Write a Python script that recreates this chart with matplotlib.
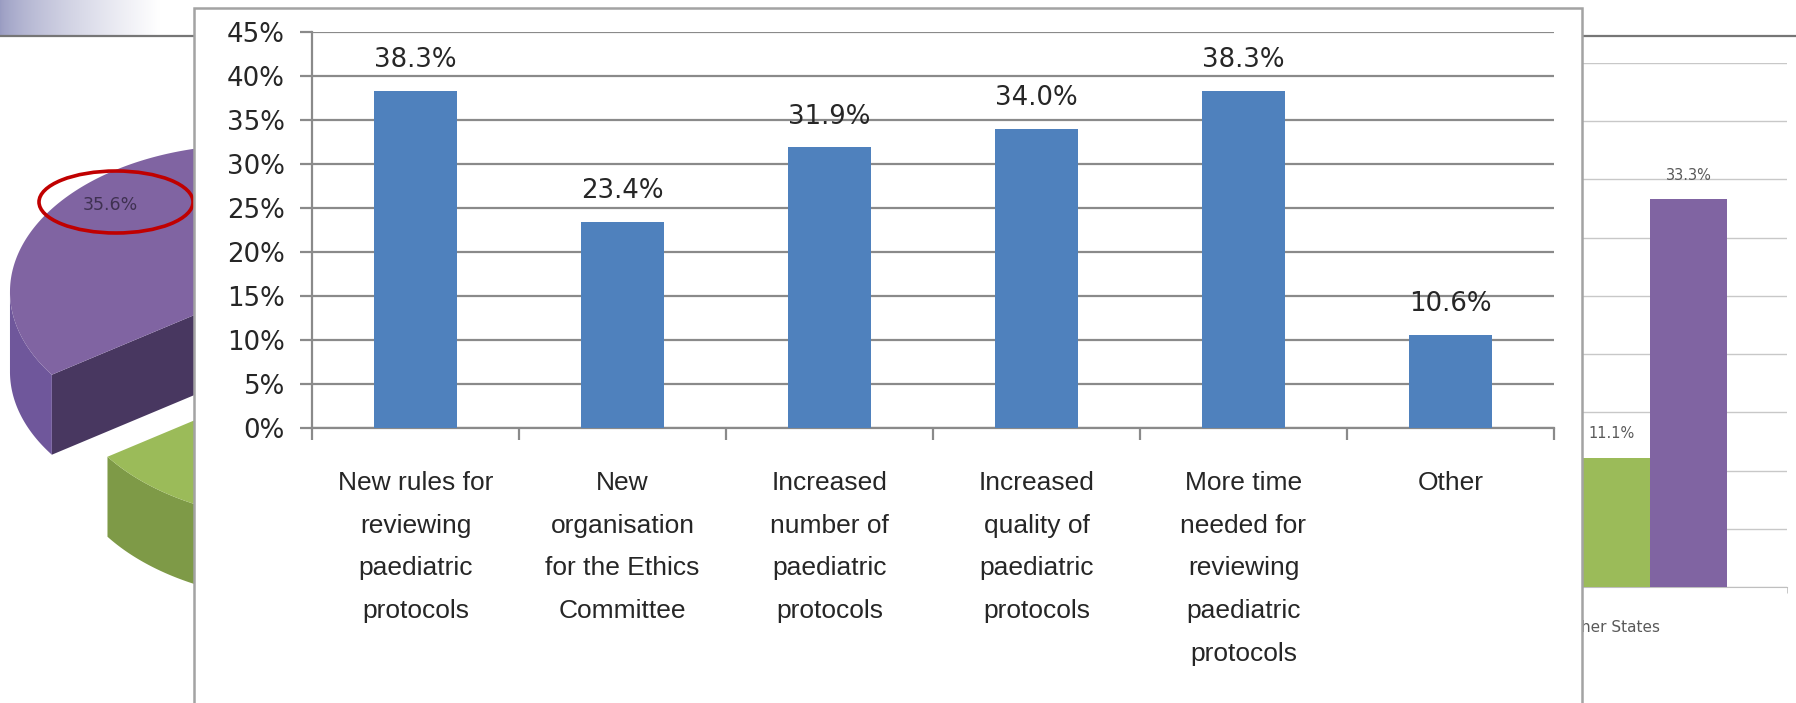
import numpy as np
import matplotlib
matplotlib.use("Agg")
import matplotlib.pyplot as plt
from matplotlib.patches import Rectangle, Ellipse

W, H = 1796, 703

# main chart
categories = ["New rules for\nreviewing\npaediatric\nprotocols",
              "New\norganisation\nfor the Ethics\nCommittee",
              "Increased\nnumber of\npaediatric\nprotocols",
              "Increased\nquality of\npaediatric\nprotocols",
              "More time\nneeded for\nreviewing\npaediatric\nprotocols",
              "Other"]
values = [38.3, 23.4, 31.9, 34.0, 38.3, 10.6]
y_ticks = list(range(0, 50, 5))

# slide behind: 3D pie (only the left part is visible)
pie_values = [35.6, 31.1, 33.3]
pie_labels = ["35.6%", "", ""]
pie_explode = [0.264, 0.427, 0.0]
pie_top = ["#8064A2", "#9BBB59", "#4F81BD"]
pie_side = ["#6F579B", "#7E9A47", "#3E6A9E"]
pie_face = ["#483760", "#667D38", "#30527A"]

# slide behind: bar chart on the right
bg_category = "Other States"
bg_values = [11.1, 33.3]
bg_colors = ["#9BBB59", "#8064A2"]

GREY = "#8A8A8A"
TXT = "#262626"

fig = plt.figure(figsize=(W / 100, H / 100), dpi=100)


def px_axes(z):
    a = fig.add_axes([0, 0, 1, 1], zorder=z)
    a.set_xlim(0, W)
    a.set_ylim(H, 0)
    a.axis("off")
    a.patch.set_alpha(0)
    return a


def frac(left, top, right, bottom):
    return [left / W, 1 - bottom / H, (right - left) / W, (bottom - top) / H]


# ---- background layer: header and pie
back = px_axes(0)
t = np.linspace(0, 1, 256)
c0 = np.array([0.60, 0.61, 0.76])
grad = c0[None, :] + (1 - c0[None, :]) * (t[:, None] ** 0.7)
back.imshow(grad[None, :, :], extent=(0, 160, 36, 0), aspect="auto",
            interpolation="bilinear")
back.plot([0, W], [36, 36], color="#767676", lw=1.6)
back.set_xlim(0, W)
back.set_ylim(H, 0)

PIE_C = (305, 311)
RX, RY, DEPTH = 240, 147, 80
PIE_START = 86.2


def rim(c, ang):
    r = np.radians(ang)
    return c[0] + RX * np.cos(r), c[1] - RY * np.sin(r)


slices = []
a0 = PIE_START
for v, e, ct, cs, cf in zip(pie_values, pie_explode, pie_top, pie_side, pie_face):
    a1 = a0 + 3.6 * v
    m = np.radians((a0 + a1) / 2)
    c = (PIE_C[0] + e * RX * np.cos(m), PIE_C[1] - e * RY * np.sin(m))
    slices.append((c, a0, a1, ct, cs, cf))
    a0 = a1

# back slices first
for c, a, b, ct, cs, cf in sorted(slices, key=lambda s: s[0][1]):
    for ang, n in ((a, a - 90), (b, b + 90)):
        if np.sin(np.radians(n)) < 0:
            x, y = rim(c, ang)
            back.fill([c[0], x, x, c[0]], [c[1], y, y + DEPTH, c[1] + DEPTH],
                      color=cf, lw=0)
    ts = np.linspace(a, b, 300)
    front = np.sin(np.radians(ts)) < 0
    if front.any():
        x, y = rim(c, ts[front])
        back.fill(np.concatenate([x, x[::-1]]),
                  np.concatenate([y, (y + DEPTH)[::-1]]), color=cs, lw=0)
    x, y = rim(c, ts)
    back.fill(np.concatenate([[c[0]], x]), np.concatenate([[c[1]], y]),
              color=ct, lw=0)

back.text(110, 205, pie_labels[0], ha="center", va="center", fontsize=12.5,
          color="#3F3151")
back.add_patch(Ellipse((116, 202), 154, 62, fill=False, ec="#C00000", lw=2.6))

# ---- background bar chart on the right
L_PX, R_PX = 1300, 1787
bar_px, first_px = 77, 1611.5
bg = fig.add_axes(frac(L_PX, 63, R_PX, 587), zorder=0.5)
bg.patch.set_alpha(0)
pos = np.arange(len(bg_values))
bg.bar(pos, bg_values, width=1.0, color=bg_colors, zorder=3)
bg.set_xlim(-(first_px - L_PX) / bar_px,
            len(bg_values) - 1 + (R_PX - first_px - (len(bg_values) - 1) * bar_px) / bar_px)
bg.set_ylim(0, 45)
bg.set_yticks(y_ticks)
bg.yaxis.grid(True, color="#C8C8C8", lw=1.0)
bg.set_axisbelow(True)
bg.tick_params(axis="y", length=0, labelleft=False)
bg.set_xticks([0])
bg.set_xticklabels([bg_category], fontsize=11, color="#595959")
bg.set_xticks([bg.get_xlim()[1]], minor=True)
bg.tick_params(axis="x", which="major", length=0, pad=24)
bg.tick_params(axis="x", which="minor", length=4, color="#BFBFBF")
for s in ["top", "right", "left"]:
    bg.spines[s].set_visible(False)
bg.spines["bottom"].set_color("#BFBFBF")
for p, v in zip(pos, bg_values):
    bg.annotate(f"{v:.1f}%", (p, v), xytext=(0, 14), textcoords="offset points",
                ha="center", va="baseline", fontsize=10.5, color="#595959")

# ---- white box of the pasted chart
box = px_axes(1)
box.add_patch(Rectangle((194, 8), 1582 - 194, H, facecolor="white",
                        edgecolor="#A3A3A3", lw=1.8))

# ---- main chart
ax = fig.add_axes(frac(312, 32, 1554, 428), zorder=2)
ax.patch.set_alpha(0)
x = np.arange(len(values))
ax.bar(x, values, width=0.4, color="#4F81BD", zorder=3)
ax.set_xlim(-0.5, len(values) - 0.5)
ax.set_ylim(0, 45)
ax.set_yticks(y_ticks)
ax.set_yticklabels([f"{v}%" for v in y_ticks])
ax.yaxis.grid(True, color=GREY, lw=1.6)
ax.set_axisbelow(True)
for s in ["top", "right"]:
    ax.spines[s].set_visible(False)
for s in ["left", "bottom"]:
    ax.spines[s].set_color(GREY)
    ax.spines[s].set_linewidth(1.6)
ax.tick_params(axis="y", length=8.6, width=1.6, color=GREY, pad=11,
               labelsize=18.7, labelcolor=TXT)
ax.set_xticks(x)
ax.set_xticklabels(categories, fontsize=19, family="Liberation Sans", color=TXT)
for lbl in ax.get_xticklabels():
    lbl.set_linespacing(1.98)
ax.set_xticks(np.arange(-0.5, len(values)), minor=True)
ax.tick_params(axis="x", which="major", length=0, pad=31)
ax.tick_params(axis="x", which="minor", length=8.6, width=1.6, color=GREY)

for xi, v in zip(x, values):
    ax.annotate(f"{v:.1f}%", (xi, v), xytext=(0, 17), textcoords="offset points",
                ha="center", va="baseline", fontsize=18.7, color=TXT)

fig.savefig("out.png", dpi=100)
